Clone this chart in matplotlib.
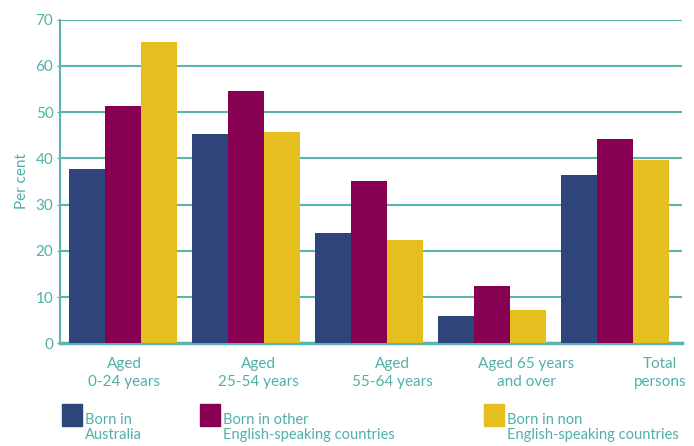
import matplotlib.pyplot as plt
import matplotlib.patches as mpatches
import numpy as np

# data
groups = ['Aged\n0-24 years', 'Aged\n25-54 years', 'Aged\n55-64 years',
          'Aged 65 years\nand over', 'Total\npersons']
series = ['Born in\nAustralia', 'Born in other\nEnglish-speaking countries',
          'Born in non\nEnglish-speaking countries']
born_australia = [37.7, 45.3, 23.9, 5.9, 36.4]
born_other_esc = [51.3, 54.6, 35.1, 12.4, 44.2]
born_non_esc = [65.2, 45.7, 22.3, 7.2, 39.7]
y_ticks = [0, 10, 20, 30, 40, 50, 60, 70]

colors = ['#2E447A', '#870051', '#E4BF1F']
teal = '#4FB1A8'
grid_teal = '#5AB5AC'

plt.rcParams['font.family'] = ['Lato', 'DejaVu Sans']

fig = plt.figure(figsize=(6.94, 4.46), dpi=100)
ax = fig.add_axes([0.0869, 0.2303, 0.8954, 0.7255])

x = np.arange(len(groups))
w = 0.293
values = [born_australia, born_other_esc, born_non_esc]
bars = []
for i, (vals, c) in enumerate(zip(values, colors)):
    b = ax.bar(x + (i - 1) * w, vals, width=w, color=c, zorder=3, linewidth=0)
    bars.append(b)

ax.set_ylim(0, 70)
ax.set_xlim(-0.51, 4.546)
ax.set_yticks(y_ticks)
ax.yaxis.grid(True, color=grid_teal, linewidth=1.5, zorder=0)
ax.set_axisbelow(True)

for s in ['top', 'right']:
    ax.spines[s].set_visible(False)
ax.spines['left'].set_color(grid_teal)
ax.spines['left'].set_linewidth(1.5)
ax.spines['bottom'].set_color(grid_teal)
ax.spines['bottom'].set_linewidth(2.5)

# category labels sit on their own even spacing, not under each group
label_x = np.arange(len(groups)) * 1.09 + 0.01
ax.set_xticks(label_x)
ax.set_xticklabels(groups, linespacing=1.35)
ax.tick_params(axis='x', length=0, pad=10, labelsize=11, labelcolor=teal)
ax.tick_params(axis='y', length=2, color=grid_teal, pad=3, labelsize=11,
               labelcolor=teal)
ax.set_ylabel('Per cent', color=teal, fontsize=11, labelpad=5)

# legend laid out by hand like the original
leg_x = [62, 200, 484]
for lx, c, lab in zip(leg_x, colors, series):
    fig.patches.append(mpatches.Rectangle((lx / 694, 1 - 426 / 446), 20 / 694, 22 / 446,
                                          transform=fig.transFigure, color=c))
    fig.text((lx + 23) / 694, 1 - 413 / 446, lab, color=teal, fontsize=10.5,
             va='top', ha='left', linespacing=1.1)

fig.savefig('out.png', dpi=100)
